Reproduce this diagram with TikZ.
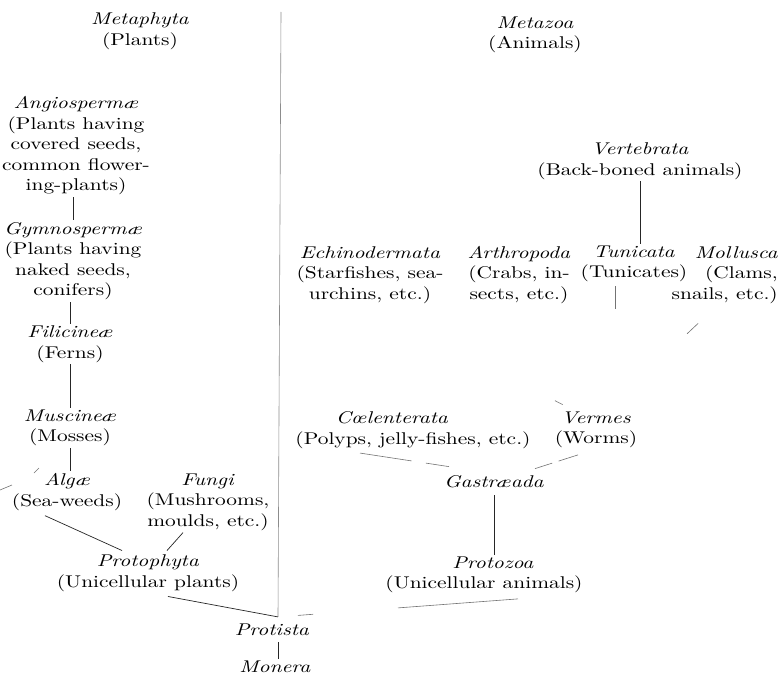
\documentclass[tikz,border=0pt]{standalone}
\usepackage{fontspec}
\setmainfont{lmroman10}[Extension=.otf, UprightFont=*-regular, ItalicFont=*-italic, BoldFont=*-bold, BoldItalicFont=*-bolditalic, FakeStretch=1.26]
\usetikzlibrary{calc}

\begin{document}
\begin{tikzpicture}[x=1pt, y=-1pt,
  taxon/.style={inner sep=2pt, align=center, font=\fontsize{17}{20.5}\selectfont},
  link/.style={line width=0.7pt, black!85},
  faint/.style={line width=0.6pt, black!55}]
  \fill[white] (0,0) rectangle (781,677);
  \useasboundingbox (0,0) rectangle (781,677);
  % Kingdoms
  \node[taxon] (metaphyta) at (140,31) {\textit{Metaphyta}\\(Plants)};
  \node[taxon] (metazoa) at (535,35) {\textit{Metazoa}\\(Animals)};
  % Plants
  \node[taxon] (angio) at (76,146) {\textit{Angiospermæ}\\(Plants having\\covered seeds,\\common flower-\\ing-plants)};
  \node[taxon] (gymno) at (73,261) {\textit{Gymnospermæ}\\(Plants having\\naked seeds,\\conifers)};
  \node[taxon] (filic) at (70,344) {\textit{Filicineæ}\\(Ferns)};
  \node[taxon] (muscin) at (70,428) {\textit{Muscineæ}\\(Mosses)};
  \node[taxon] (algae) at (67,492) {\textit{Algæ}\\(Sea-weeds)};
  \node[taxon] (fungi) at (208,502) {\textit{Fungi}\\(Mushrooms,\\moulds, etc.)};
  \node[taxon] (protoph) at (148,573) {\textit{Protophyta}\\(Unicellular plants)};
  % Root
  \node[taxon] (protista) at (272,630) {\textit{Protista}};
  \node[taxon] (monera) at (275,667) {\textit{Monera}};
  \coordinate (junction) at ($(protista.north)+(6,-5)$);
  \coordinate (septop) at (281,12);
  % Animals
  \node[taxon] (vert) at (640,161) {\textit{Vertebrata}\\(Back-boned animals)};
  \node[taxon] (echino) at (370,275) {\textit{Echinodermata}\\(Starfishes, sea-\\urchins, etc.)};
  \node[taxon] (arthro) at (519,275) {\textit{Arthropoda}\\(Crabs, in-\\sects, etc.)};
  \node[taxon] (tunic) at (634,264) {\textit{Tunicata}\\(Tunicates)};
  \node[taxon, align=right, anchor=east] (mollus) at (780,275) {\textit{Mollusca}\\(Clams,\\snails, etc.)};
  \node[taxon] (coelen) at (413,430) {\textit{Cœlenterata}\hspace*{42pt}\\(Polyps, jelly-fishes, etc.)};
  \node[taxon] (vermes) at (596,430) {\textit{Vermes}\\(Worms)};
  \node[taxon] (gastr) at (494,482) {\textit{Gastræada}};
  \node[taxon] (protozoa) at (484,575) {\hspace*{18pt}\textit{Protozoa}\\(Unicellular animals)};
  % Dividing line
  \draw[line width=0.6pt, black!45] (junction) -- (septop);
  % Connections, plants
  \draw[link] (gymno.north |- angio.south) -- (gymno.north);
  \draw[link] (filic.north |- gymno.south) -- (filic.north);
  \draw[link] (filic.south) -- (muscin.north);
  \draw[link] (muscin.south) -- (muscin.south |- algae.north);
  \draw[link] ($(algae.south)+(-22,3)$) -- ($(protoph.north)+(-26,-2)$);
  \draw[link] ($(fungi.south)+(-25,0)$) -- ($(protoph.north)+(19,-2)$);
  \draw[link] ($(protoph.south)+(20,3)$) -- (junction);
  \draw[link, shorten <=4pt] (protista.south -| junction) -- (monera.north -| junction);
  % stray marks by Algae
  \coordinate (speckA) at (0,490);
  \coordinate (speckB) at (12,485);
  \coordinate (speckC) at (34,473);
  \coordinate (speckD) at (39,468);
  \draw[faint] (speckA) -- (speckB) (speckC) -- (speckD);
  % Connections, animals
  \draw[link] (vert.south) -- (vert.south |- tunic.north);
  \coordinate (tunicfoot) at ($(tunic.south)+(-19,2)$);
  \coordinate (vermestop) at (tunicfoot |- vermes.north);
  \draw[faint] (tunicfoot) -- ($(tunicfoot)!0.18!(vermestop)$);
  \coordinate (mollfoot) at ($(mollus.south east)+(-63,0)$);
  \coordinate (vermesright) at ($(vermes.north)+(10,0)$);
  \draw[faint] ($(mollfoot)!0.17!(vermesright)$) -- ($(mollfoot)!0.27!(vermesright)$);
  \coordinate (vermesleft) at ($(vermes.north west)+(10,-5)$);
  \draw[faint] ($(echino.south)!0.96!(vermesleft)$) -- (vermesleft);
  \coordinate (coelfoot) at ($(coelen.south)+(-53,2.5)$);
  \coordinate (gastrleft) at ($(gastr.north)+(-45,-7)$);
  \draw[faint] (coelfoot) -- ($(coelfoot)!0.58!(gastrleft)$) ($(coelfoot)!0.74!(gastrleft)$) -- (gastrleft);
  \coordinate (vermfoot) at ($(vermes.south)+(-18,4.5)$);
  \coordinate (gastrright) at ($(gastr.north)+(41,-5)$);
  \draw[faint] (vermfoot) -- ($(vermfoot)!0.45!(gastrright)$) ($(vermfoot)!0.6!(gastrright)$) -- (gastrright);
  \draw[link] ($(gastr.south)+(0,5)$) -- (gastr.south |- protozoa.north);
  \coordinate (protozfoot) at ($(protozoa.south)+(34,3.5)$);
  \draw[faint] (protozfoot) -- ($(protozfoot)!0.5!(junction)$) ($(protozfoot)!0.854!(junction)$) -- ($(protozfoot)!0.917!(junction)$);
\end{tikzpicture}
\end{document}
